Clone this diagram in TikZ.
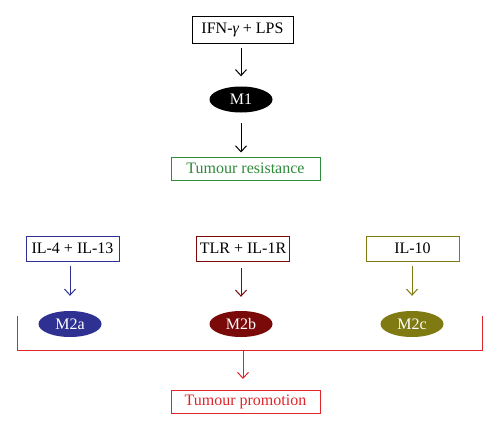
\documentclass[tikz,border=0pt]{standalone}
\usepackage{fontspec}
\setmainfont{Liberation Serif}
\usetikzlibrary{shapes.geometric,arrows.meta}
\definecolor{cblue}{HTML}{2E3192}
\definecolor{cdred}{HTML}{7A0A0A}
\definecolor{colive}{HTML}{807A12}
\definecolor{cgreen}{HTML}{2F8A3A}
\definecolor{cred}{HTML}{E0252A}
\tikzset{
  lbl/.style={draw, line width=1pt, inner sep=0pt, font=\fontsize{16}{18}\selectfont, anchor=center},
  cell/.style={ellipse, inner sep=0pt, minimum width=63pt, minimum height=26pt, text=white, font=\fontsize{16}{18}\selectfont},
  arr/.style={line width=1pt, -{Straight Barb[length=6pt,width=11pt]}},
}
\begin{document}
\begin{tikzpicture}[x=1pt,y=-1pt]
\useasboundingbox (0,0) rectangle (500,431);
\fill[white] (0,0) rectangle (500,431);
% top branch
\node[lbl, minimum width=101pt, minimum height=27pt] (ifn) at (242.5,29.5) {IFN-{\itshape γ} + LPS};
\node[cell, fill=black] (m1) at (241,99.5) {M1};
\node[lbl, draw=cgreen, text=cgreen, minimum width=149pt, minimum height=23pt] (res) at (245.5,168.5) {Tumour resistance};
\draw[arr, shorten <=4pt, shorten >=10pt] (ifn.south -| m1) -- (m1.north);
\draw[arr, shorten <=10.5pt, shorten >=4pt] (m1.south) -- (res.north -| m1);
% M2 inducers
\node[lbl, draw=cblue, minimum width=93pt, minimum height=25pt] (il4) at (72.5,248.5) {IL-4 + IL-13};
\node[lbl, draw=cdred, minimum width=93pt, minimum height=25pt] (tlr) at (243,248.5) {TLR + IL-1R};
\node[lbl, draw=colive, minimum width=93pt, minimum height=25pt] (il10) at (412.5,248.5) {IL-10};
\node[cell, fill=cblue] (m2a) at (70,324) {M2a};
\node[cell, fill=cdred] (m2b) at (241,324) {M2b};
\node[cell, fill=colive] (m2c) at (412,324) {M2c};
\draw[arr, cblue, shorten <=4pt, shorten >=15pt] (il4.south -| m2a) -- (m2a);
\draw[arr, cdred, shorten <=6pt, shorten >=14pt] (tlr.south -| m2b) -- (m2b);
\draw[arr, colive, shorten <=4pt, shorten >=15pt] (il10.south -| m2c) -- (m2c);
% bracket
\coordinate (bl) at (17,316);
\coordinate (br) at (482,316);
\coordinate (bm) at (243,350);
\draw[cred, line width=1pt] (bl) -- (bl |- bm) -- (br |- bm) -- (br);
\node[lbl, draw=cred, text=cred, minimum width=149pt, minimum height=23pt] (pro) at (245.5,402) {Tumour promotion};
\draw[arr, cred, shorten >=11pt] (bm) -- (bm |- pro.north);
\end{tikzpicture}
\end{document}
